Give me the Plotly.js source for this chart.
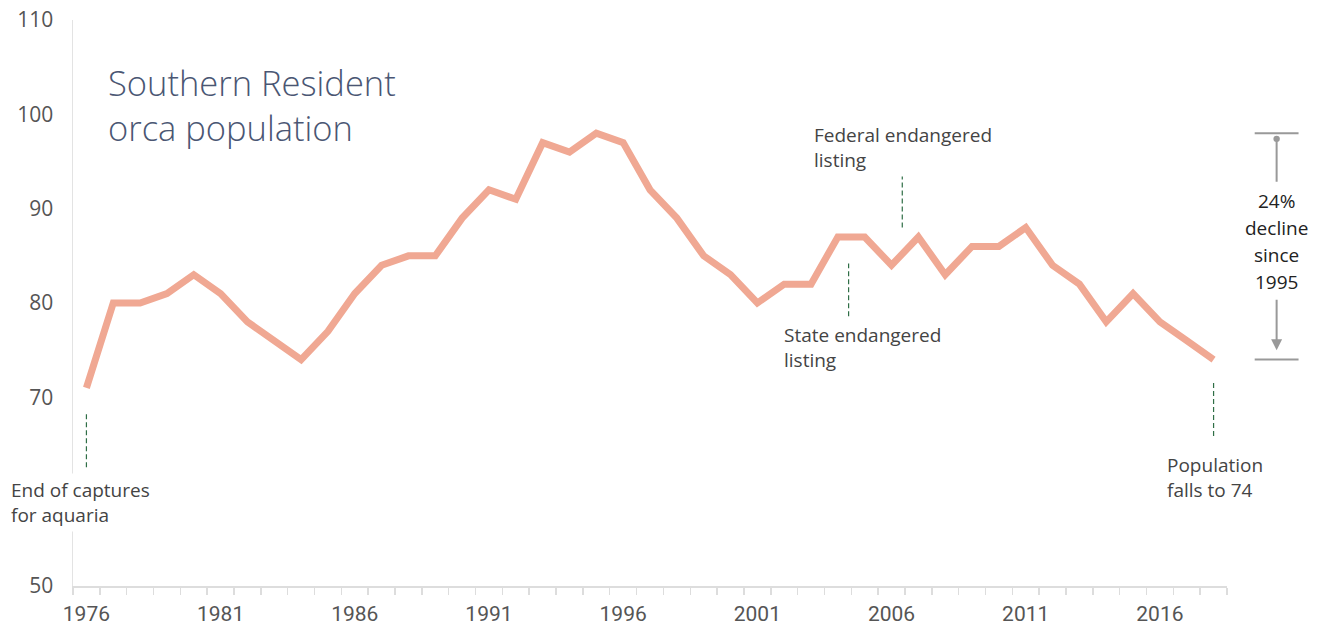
<!DOCTYPE html>
<html>
<head>
<meta charset="utf-8">
<script src="https://cdn.plot.ly/plotly-3.0.1.min.js"></script>
<style>html,body{margin:0;padding:0;background:#fff;}#chart{width:1323px;height:628px;}</style>
</head>
<body>
<div id="chart"></div>
<script>
// Data
var years = [1976,1977,1978,1979,1980,1981,1982,1983,1984,1985,1986,1987,1988,1989,1990,1991,1992,1993,1994,1995,1996,1997,1998,1999,2000,2001,2002,2003,2004,2005,2006,2007,2008,2009,2010,2011,2012,2013,2014,2015,2016,2017,2018];
var population = [71,80,80,81,83,81,78,76,74,77,81,84,85,85,89,92,91,97,96,98,97,92,89,85,83,80,82,82,87,87,84,87,83,86,86,88,84,82,78,81,78,76,74];
var xTickYears = [1976,1981,1986,1991,1996,2001,2006,2011,2016];
var yTicks = [50,70,80,90,100,110];

// Event markers (dashed leader lines)
var eventX = [1976, 2004.4, 2006.4, 2018];
var eventY0 = [62.6, 78.6, 88.0, 65.9];
var eventY1 = [68.3, 84.2, 93.9, 71.6];
var eventLabels = ["End of captures<br>for aquaria", "State endangered<br>listing", "Federal endangered<br>listing", "Population<br>falls to 74"];
var labelXref = ['paper', 'x', 'x', 'x'];
var labelX = [-0.0575, 2001.83, 2002.98, 2016.11];
var labelY = [62.0, 78.42, 99.62, 64.62];

var peakValue = 98, lastValue = 74;
var declineLines = ["24%", "decline", "since", "1995"];
var declineY = [90.8, 87.9, 85.1, 82.2];

var shapes = [];
for (var i = 0; i < eventX.length; i++) {
  shapes.push({type:'line', xref:'x', yref:'y', x0:eventX[i], x1:eventX[i], y0:eventY0[i], y1:eventY1[i],
    line:{color:'#2f6e46', width:1.2, dash:'5px,3px'}});
}
// bracket
shapes.push({type:'line', xref:'paper', yref:'y', x0:1.024, x1:1.062, y0:peakValue, y1:peakValue, line:{color:'#999', width:2}});
shapes.push({type:'line', xref:'paper', yref:'y', x0:1.024, x1:1.062, y0:lastValue, y1:lastValue, line:{color:'#999', width:2}});

var annotations = [];
annotations.push({xref:'paper', yref:'paper', x:0.029, y:0.935, xanchor:'left', yanchor:'top', align:'left', showarrow:false,
  text:'Southern Resident<br>orca population', font:{family:'Open Sans', size:34.5, color:'#4a5673', weight:300}});
for (var j = 0; j < eventLabels.length; j++) {
  annotations.push({xref:labelXref[j], yref:'y', x:labelX[j], y:labelY[j], xanchor:'left', yanchor:'top', align:'left', showarrow:false,
    text:eventLabels[j], bgcolor:'#fff', borderpad:3, font:{family:'Open Sans', size:19, color:'#444'}});
}
for (var k = 0; k < declineLines.length; k++) {
  annotations.push({xref:'paper', yref:'y', x:1.043, y:declineY[k], xanchor:'center', yanchor:'middle', align:'center', showarrow:false,
    text:declineLines[k], font:{family:'Open Sans', size:19, color:'#222'}});
}
// top: dot + line
annotations.push({xref:'paper', yref:'y', axref:'pixel', ayref:'y', x:1.043, y:97.4, ax:0, ay:92.7, text:'', showarrow:true,
  arrowhead:6, arrowsize:0.8, arrowwidth:2, arrowcolor:'#999'});
// bottom arrow
annotations.push({xref:'paper', yref:'y', axref:'pixel', ayref:'y', x:1.043, y:75.0, ax:0, ay:80.5, text:'', showarrow:true,
  arrowhead:2, arrowsize:1.1, arrowwidth:2, arrowcolor:'#999'});

var trace = {
  x: years, y: population, type:'scatter', mode:'lines',
  line:{color:'#f0a893', width:7},
  hoverinfo:'x+y'
};

var layout = {
  width:1323, height:628,
  margin:{l:73, r:96, t:20, b:42},
  paper_bgcolor:'#fff', plot_bgcolor:'#fff',
  showlegend:false,
  xaxis:{
    type:'linear', range:[1975.5, 2018.5],
    tickmode:'array', tickvals:xTickYears, ticktext:xTickYears.map(String),
    ticks:'', showgrid:false, zeroline:false,
    showline:true, linecolor:'#dddddd', linewidth:1.5,
    tickfont:{family:'Roboto', size:21, color:'#555'},
    ticklabelstandoff:8,
    minor:{tickmode:'linear', tick0:1975.5, dtick:1, ticks:'outside', ticklen:7, tickcolor:'#dddddd', tickwidth:1.5, showgrid:false}
  },
  yaxis:{
    range:[50,110], tickmode:'array', tickvals:yTicks, ticktext:yTicks.map(String),
    ticks:'', showgrid:false, zeroline:false,
    showline:true, linecolor:'#e3e3e3', linewidth:1.5,
    tickfont:{family:'Open Sans', size:21, color:'#555'},
    ticklabelstandoff:14
  },
  shapes:shapes,
  annotations:annotations
};

Plotly.newPlot('chart', [trace], layout, {displayModeBar:false, staticPlot:true});
</script>
</body>
</html>
